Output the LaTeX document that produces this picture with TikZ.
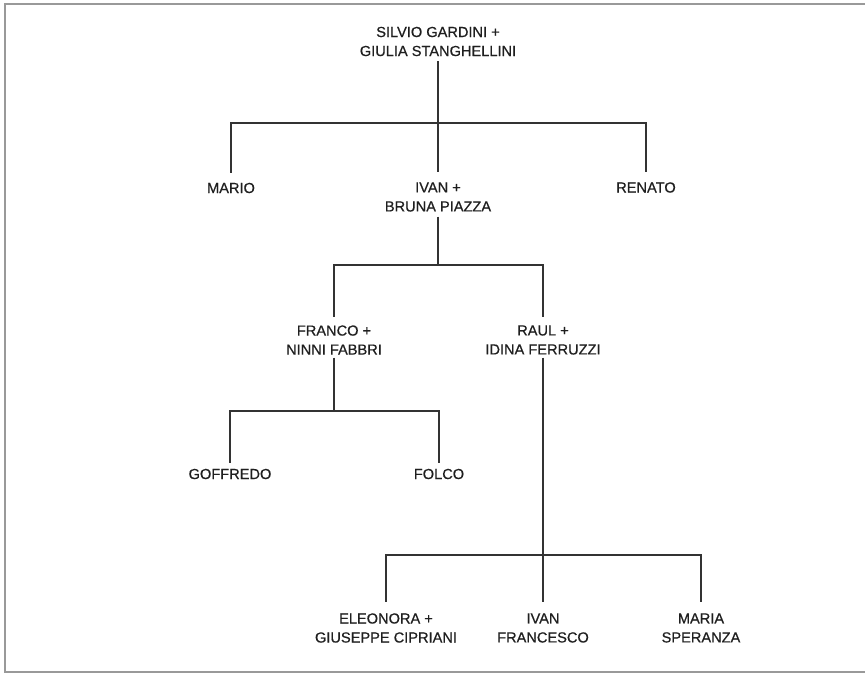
\documentclass[tikz,border=0pt]{standalone}
\usepackage{fontspec}
\setmainfont{Liberation Sans}
\newfontfamily\diagfont{Liberation Sans}[FakeBold=0.6]
\begin{document}
\begin{tikzpicture}[x=1pt,y=-1pt,
  person/.style={font=\diagfont\fontsize{14.6}{19}\selectfont, align=center, inner sep=0pt, outer sep=0pt, text=black!88},
  link/.style={draw=black!80, line width=1.6pt},
  frameline/.style={draw=black!40, line width=1.5pt}]
\useasboundingbox (0,0) rectangle (865,674);
\fill[white] (0,0) rectangle (865,674);
\draw[frameline] (865,4) -- (5,4) -- (5,672) -- (865,672);

% nodes
\node[person] (top) at (438,41.5) {SILVIO GARDINI +\\GIULIA STANGHELLINI};
\node[person] (mario) at (231,188) {MARIO};
\node[person] (ivan) at (438,197) {IVAN +\\BRUNA PIAZZA};
\node[person] (renato) at (646,187.5) {RENATO};
\node[person] (franco) at (334,340) {FRANCO +\\NINNI FABBRI};
\node[person] (raul) at (543,340) {RAUL +\\IDINA FERRUZZI};
\node[person] (goffredo) at (230,474) {GOFFREDO};
\node[person] (folco) at (439,474) {FOLCO};
\node[person] (eleonora) at (386,628) {ELEONORA +\\GIUSEPPE CIPRIANI};
\node[person] (ivanf) at (543,628) {IVAN\\FRANCESCO};
\node[person] (maria) at (701,628) {MARIA\\SPERANZA};

% junctions
\coordinate (j1) at (438,123);
\coordinate (j2) at (438,265);
\coordinate (j3) at (334,411);
\coordinate (j4) at (543,555);

% connectors
\draw[link, shorten <=5] (top.south) -- (j1);
\draw[link, shorten >=10] (j1) -| (mario.north);
\draw[link, shorten >=10] (j1) -| (renato.north);
\draw[link, shorten >=10] (j1) -- (ivan.north);

\draw[link, shorten <=5] (ivan.south) -- (j2);
\draw[link, shorten >=8] (j2) -| (franco.north);
\draw[link, shorten >=8] (j2) -| (raul.north);

\draw[link, shorten <=3] (franco.south) -- (j3);
\draw[link, shorten >=6] (j3) -| (goffredo.north);
\draw[link, shorten >=6] (j3) -| (folco.north);

\draw[link, shorten <=3] (raul.south) -- (j4);
\draw[link, shorten >=11] (j4) -| (eleonora.north);
\draw[link, shorten >=11] (j4) -| (maria.north);
\draw[link, shorten >=11] (j4) -- (ivanf.north);
\end{tikzpicture}
\end{document}
